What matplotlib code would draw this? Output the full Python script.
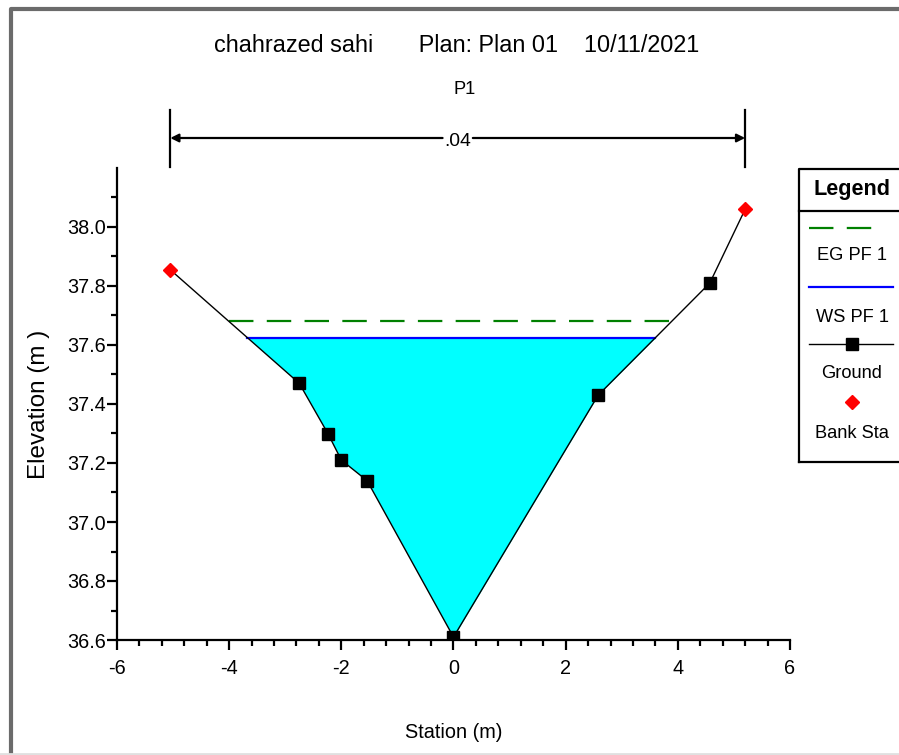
import numpy as np
import matplotlib
matplotlib.use("Agg")
import matplotlib.pyplot as plt
from matplotlib import font_manager
from matplotlib.transforms import blended_transform_factory
from matplotlib.lines import Line2D

# cross section P1
station = [-5.05, -2.75, -2.24, -2.0, -1.54, 0.0, 2.58, 4.57, 5.2]
elevation = [37.855, 37.47, 37.30, 37.21, 37.14, 36.61, 37.43, 37.81, 38.06]
bank_sta = [-5.05, 5.2]
bank_elev = [37.855, 38.06]
ws_elev = 37.625
eg_elev = 37.68
mann_n = ".04"

title = "chahrazed sahi       Plan: Plan 01    10/11/2021"
subtitle = "P1"
legend_items = ["EG PF 1", "WS PF 1", "Ground", "Bank Sta"]

names = {f.name for f in font_manager.fontManager.ttflist}
if "Liberation Sans Narrow" in names:
    fam, k = "Liberation Sans Narrow", 1.0
else:
    fam, k = "Liberation Sans", 0.82
plt.rcParams["font.family"] = [fam, "DejaVu Sans"]


def crossings(level):
    # where the ground line meets a horizontal level (left and right side)
    x = np.asarray(station)
    z = np.asarray(elevation)
    i0 = int(np.argmin(z))
    left = np.interp(level, z[:i0 + 1][::-1], x[:i0 + 1][::-1])
    right = np.interp(level, z[i0:], x[i0:])
    return left, right


fig = plt.figure(figsize=(8.99, 7.55), dpi=100)
ax = fig.add_axes([117 / 899, 1 - 640 / 755, 673 / 899, 472 / 755])

xs = np.linspace(station[0], station[-1], 2000)
zs = np.interp(xs, station, elevation)
ax.fill_between(xs, zs, ws_elev, where=zs <= ws_elev, interpolate=True,
                color="#00ffff", lw=0, zorder=1)

wl, wr = crossings(ws_elev)
ax.plot([wl, wr], [ws_elev, ws_elev], color="#0000ff", lw=1.6, zorder=2)
el, er = crossings(eg_elev)
ax.plot([el, er], [eg_elev, eg_elev], color="#008000", lw=1.6,
        dashes=(11, 6), zorder=2)

ax.plot(station, elevation, color="black", lw=1.0, zorder=3)
ax.plot(station[1:-1], elevation[1:-1], ls="none", marker="s", ms=8,
        color="black", zorder=4)
ax.plot(bank_sta, bank_elev, ls="none", marker="D", ms=7, color="red",
        mec="red", zorder=5)

ax.set_xlim(-6, 6)
ax.set_ylim(36.6, 38.2)
ax.set_xticks(np.arange(-6, 6.1, 2))
ax.set_xticks(np.arange(-6, 6.01, 0.4), minor=True)
ax.set_yticks(np.arange(36.6, 38.05, 0.2))
ax.set_yticks(np.arange(36.6, 38.15, 0.1), minor=True)
ax.set_yticklabels(["%.1f" % v for v in np.arange(36.6, 38.05, 0.2)])
ax.set_xticklabels(["%d" % v for v in np.arange(-6, 6.1, 2)])
for s in ["top", "right"]:
    ax.spines[s].set_visible(False)
for s in ["left", "bottom"]:
    ax.spines[s].set_linewidth(1.6)
ax.tick_params(which="major", direction="out", length=7, width=1.6,
               labelsize=17.5 * k)
ax.tick_params(axis="x", which="major", pad=7)
ax.tick_params(axis="y", which="major", pad=1)
ax.tick_params(which="minor", direction="out", length=4, width=1.6)
ax.set_xlabel("Station (m)", fontsize=17.5 * k, labelpad=32)
ax.set_ylabel("Elevation (m )", fontsize=17.5, family="Liberation Sans",
              labelpad=12)

fig.text(0.508, 1 - 46 / 755, title, ha="center", va="center",
         fontsize=20.5 * k)
fig.text(0.517, 1 - 89 / 755, subtitle, ha="center", va="center",
         fontsize=16 * k)

# manning's n bar between bank stations
tr = blended_transform_factory(ax.transData, fig.transFigure)
yb = 1 - 138 / 755
for b in bank_sta:
    ax.add_line(Line2D([b, b], [1 - 110 / 755, 1 - 167 / 755], transform=tr,
                       color="black", lw=1.6, clip_on=False))
mid = (bank_sta[0] + bank_sta[1]) / 2
for b in bank_sta:
    ax.annotate("", xy=(b, yb), xycoords=tr,
                xytext=(mid + np.sign(b) * 0.27, yb), textcoords=tr,
                arrowprops=dict(arrowstyle="-|>", color="black", lw=1.6,
                                mutation_scale=12, shrinkA=0, shrinkB=0))
ax.text(mid, yb - 0.005, mann_n, transform=tr, ha="center", va="center",
        fontsize=17 * k)

# overlay in pixel coordinates for the frame and legend box
ov = fig.add_axes([0, 0, 1, 1], zorder=10)
ov.set_xlim(0, 899)
ov.set_ylim(755, 0)
ov.axis("off")
ov.patch.set_alpha(0)
ov.plot([10.5, 10.5, 905], [752, 9, 9], color="#6b6b6b", lw=3)
ov.plot([0, 905], [753.5, 753.5], color="#e0e0e0", lw=2)

ov.plot([799, 799, 905], [462, 169, 169], color="black", lw=1.6)
ov.plot([799, 905], [462, 462], color="black", lw=1.6)
ov.plot([799, 905], [211, 211], color="black", lw=1.6)
ov.text(852, 189, "Legend", ha="center", va="center", fontsize=19 * k,
        fontweight="bold")
cx = 852
ov.plot([809, 884], [228, 228], color="#008000", lw=1.6, dashes=(11, 6))
ov.text(cx, 256, legend_items[0], ha="center", va="center", fontsize=16 * k)
ov.plot([809, 893], [287, 287], color="#0000ff", lw=1.6)
ov.text(cx, 317, legend_items[1], ha="center", va="center", fontsize=16 * k)
ov.plot([809, 893], [344, 344], color="black", lw=1.0)
ov.plot([cx], [344], marker="s", ms=8, color="black")
ov.text(cx, 373, legend_items[2], ha="center", va="center", fontsize=16 * k)
ov.plot([cx], [402], marker="D", ms=7, color="red")
ov.text(cx, 433, legend_items[3], ha="center", va="center", fontsize=16 * k)

fig.savefig("out.png", dpi=100)
